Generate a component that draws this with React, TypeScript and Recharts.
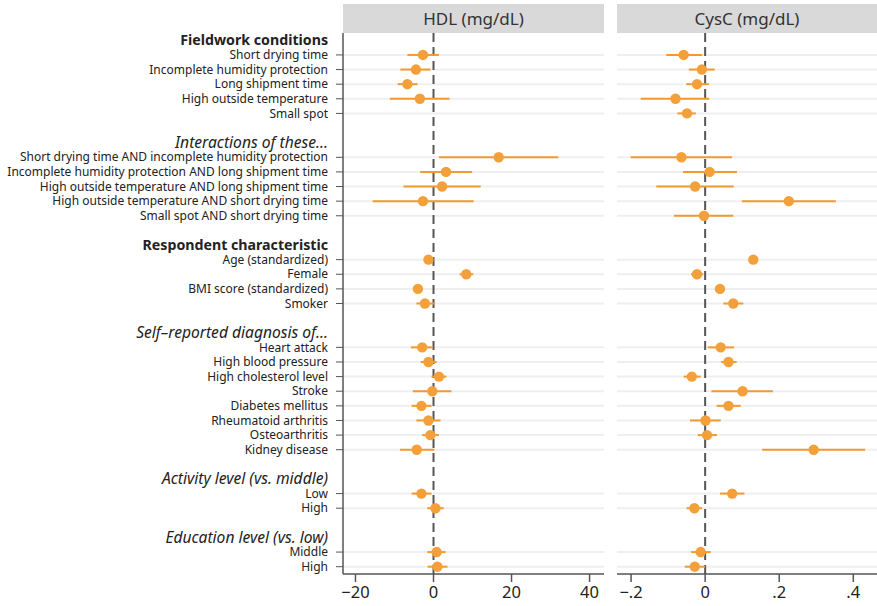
import React from "react";
import { ScatterChart, Scatter, XAxis, YAxis, ErrorBar, ReferenceLine } from "recharts";

// Row labels (top to bottom)
const rowLabels: string[] = [
  "Fieldwork conditions",
  "Short drying time",
  "Incomplete humidity protection",
  "Long shipment time",
  "High outside temperature",
  "Small spot",
  "",
  "Interactions of these...",
  "Short drying time AND incomplete humidity protection",
  "Incomplete humidity protection AND long shipment time",
  "High outside temperature AND long shipment time",
  "High outside temperature AND short drying time",
  "Small spot AND short drying time",
  "",
  "Respondent characteristic",
  "Age (standardized)",
  "Female",
  "BMI score (standardized)",
  "Smoker",
  "",
  "Self\u2013reported diagnosis of...",
  "Heart attack",
  "High blood pressure",
  "High cholesterol level",
  "Stroke",
  "Diabetes mellitus",
  "Rheumatoid arthritis",
  "Osteoarthritis",
  "Kidney disease",
  "",
  "Activity level (vs. middle)",
  "Low",
  "High",
  "",
  "Education level (vs. low)",
  "Middle",
  "High",
];

// b = bold header, h = italic header, i = item, s = spacer
const rowKinds: string[] = [
  "b", "i", "i", "i", "i", "i", "s",
  "h", "i", "i", "i", "i", "i", "s",
  "b", "i", "i", "i", "i", "s",
  "h", "i", "i", "i", "i", "i", "i", "i", "i", "s",
  "h", "i", "i", "s",
  "h", "i", "i",
];

const N = null;

// HDL (mg/dL) estimates and 95% CI
const hdlEst: (number | null)[] = [
  N, -2.7, -4.5, -6.7, -3.5, N, N,
  N, 16.7, 3.2, 2.2, -2.7, N, N,
  N, -1.3, 8.4, -4.0, -2.2, N,
  N, -2.9, -1.3, 1.4, -0.3, -3.1, -1.3, -0.8, -4.3, N,
  N, -3.1, 0.5, N,
  N, 0.8, 1.0,
];
const hdlLo: (number | null)[] = [
  N, -6.7, -8.5, -9.2, -11.2, N, N,
  N, 1.4, -3.4, -7.7, -15.6, N, N,
  N, -1.6, 6.7, -4.3, -4.4, N,
  N, -5.8, -3.3, -0.5, -5.3, -5.6, -4.4, -2.9, -8.6, N,
  N, -5.6, -1.6, N,
  N, -1.6, -1.5,
];
const hdlHi: (number | null)[] = [
  N, 1.4, -0.8, -4.1, 4.1, N, N,
  N, 32.0, 9.9, 12.1, 10.3, N, N,
  N, -1.0, 10.2, -3.7, 0.3, N,
  N, -0.1, 0.8, 3.3, 4.6, -0.5, 1.8, 1.4, 0.2, N,
  N, -0.5, 2.6, N,
  N, 3.1, 3.6,
];

// CysC (mg/dL) estimates and 95% CI
const cysEst: (number | null)[] = [
  N, -0.058, -0.009, -0.022, -0.08, -0.049, N,
  N, -0.064, 0.012, -0.027, 0.226, -0.003, N,
  N, 0.13, -0.022, 0.04, 0.076, N,
  N, 0.042, 0.063, -0.036, 0.101, 0.063, 0.001, 0.005, 0.293, N,
  N, 0.073, -0.029, N,
  N, -0.012, -0.028,
];
const cysLo: (number | null)[] = [
  N, -0.105, -0.044, -0.051, -0.174, -0.075, N,
  N, -0.201, -0.06, -0.132, 0.099, -0.084, N,
  N, 0.126, -0.038, 0.036, 0.049, N,
  N, 0.007, 0.043, -0.058, 0.017, 0.031, -0.041, -0.02, 0.154, N,
  N, 0.04, -0.05, N,
  N, -0.038, -0.055,
];
const cysHi: (number | null)[] = [
  N, -0.008, 0.026, 0.01, 0.011, -0.025, N,
  N, 0.073, 0.086, 0.077, 0.353, 0.076, N,
  N, 0.134, -0.005, 0.044, 0.103, N,
  N, 0.078, 0.085, -0.012, 0.183, 0.096, 0.042, 0.032, 0.432, N,
  N, 0.106, -0.008, N,
  N, 0.015, 0.0,
];

const hdlTicks = [-20, 0, 20, 40];
const cysTicks = [-0.2, 0, 0.2, 0.4];

const FONT = "'Noto Sans', Roboto, sans-serif";
const ORANGE = "#f4a03a";
const ORANGE_LINE = "#f29a30";
const AXIS = "#555555";
const TEXT = "#222222";

const buildSeries = (est: (number | null)[], lo: (number | null)[], hi: (number | null)[]) =>
  est
    .map((v, i) => ({
      row: i,
      est: v,
      err: v == null ? null : [v - (lo[i] as number), (hi[i] as number) - v],
    }))
    .filter((d) => d.est != null);

const hdlData = buildSeries(hdlEst, hdlLo, hdlHi);
const cysData = buildSeries(cysEst, cysLo, cysHi);

const allRows = rowLabels.map((_, i) => i).filter((i) => rowKinds[i] !== "s");
const itemRows = rowLabels.map((_, i) => i).filter((i) => rowKinds[i] === "i");

const fmtHdl = (v: number) => (v < 0 ? "\u2212" + Math.abs(v) : String(v));
const fmtCys = (v: number) => {
  if (v === 0) return "0";
  const s = String(Math.abs(Math.round(v * 10) / 10)).replace(/^0/, "");
  return (v < 0 ? "\u2212" : "") + s;
};

const TICK_SIZE = 7;
const TICK_MARGIN = 8;

const RowTick = (props: any) => {
  const { x, y, payload } = props;
  const i = payload.value as number;
  const kind = rowKinds[i];
  if (!kind || kind === "s") return <g />;
  const isItem = kind === "i";
  const size = isItem ? 12 : kind === "b" ? 14.2 : 15.6;
  return (
    <g>
      {isItem && (
        <line
          x1={x + TICK_MARGIN}
          x2={x + TICK_MARGIN + TICK_SIZE}
          y1={y}
          y2={y}
          stroke={AXIS}
          strokeWidth={1}
        />
      )}
      <text
        x={x}
        y={y}
        dy="0.35em"
        textAnchor="end"
        fontFamily={FONT}
        fontSize={size}
        fontWeight={kind === "b" ? 700 : 400}
        fontStyle={kind === "h" ? "italic" : "normal"}
        fill={TEXT}
      >
        {rowLabels[i]}
      </text>
    </g>
  );
};

const Dot = (props: any) => {
  const { cx, cy } = props;
  if (cx == null || cy == null) return <g />;
  return <circle cx={cx} cy={cy} r={5.2} fill={ORANGE} />;
};

const H = 606;
const TOP = 33;
const XAXIS_H = 32;

const Panel = ({
  width,
  data,
  domain,
  ticks,
  fmt,
  showY,
}: {
  width: number;
  data: any[];
  domain: [number, number];
  ticks: number[];
  fmt: (v: number) => string;
  showY: boolean;
}) => (
  <ScatterChart width={width} height={H} margin={{ top: TOP, right: 0, bottom: 0, left: 0 }}>
    <XAxis
      type="number"
      dataKey="est"
      domain={domain}
      ticks={ticks}
      allowDataOverflow
      tickFormatter={fmt}
      height={XAXIS_H}
      tickSize={8}
      tickMargin={4}
      axisLine={{ stroke: AXIS, strokeWidth: 1.5 }}
      tickLine={{ stroke: AXIS, strokeWidth: 1.5 }}
      tick={{ fontSize: 16.5, fill: TEXT, fontFamily: FONT }}
    />
    <YAxis
      type="number"
      dataKey="row"
      domain={[-0.5, 36.5]}
      reversed
      ticks={allRows}
      interval={0}
      hide={!showY}
      width={showY ? 343 : 0}
      tickSize={TICK_SIZE}
      tickMargin={TICK_MARGIN}
      tickLine={false}
      axisLine={{ stroke: AXIS, strokeWidth: 1.5 }}
      tick={<RowTick />}
    />
    {itemRows.map((r) => (
      <ReferenceLine key={"g" + r} y={r} stroke="#efefef" strokeWidth={2} ifOverflow="visible" />
    ))}
    <ReferenceLine x={0} stroke={AXIS} strokeWidth={2} strokeDasharray="9 5" />
    <Scatter data={data} shape={<Dot />} isAnimationActive={false}>
      <ErrorBar dataKey="err" direction="x" width={0} stroke={ORANGE_LINE} strokeWidth={2} />
    </Scatter>
  </ScatterChart>
);

const headerStyle = (left: number, width: number): React.CSSProperties => ({
  position: "absolute",
  left,
  top: 4,
  width,
  height: 29,
  background: "#d9d9d9",
  color: "#333",
  fontFamily: FONT,
  fontSize: 17,
  lineHeight: "29px",
  textAlign: "center",
});

export default function App() {
  return (
    <div
      style={{
        position: "absolute",
        left: 0,
        top: 0,
        width: 877,
        height: 606,
        background: "#ffffff",
        fontFamily: FONT,
        overflow: "hidden",
      }}
    >
      <div style={headerStyle(343, 261)}>HDL (mg/dL)</div>
      <div style={headerStyle(617, 260)}>CysC (mg/dL)</div>
      <div style={{ position: "absolute", left: 0, top: 0 }}>
        <Panel width={604} data={hdlData} domain={[-23.2, 43.7]} ticks={hdlTicks} fmt={fmtHdl} showY />
      </div>
      <div style={{ position: "absolute", left: 617, top: 0 }}>
        <Panel width={260} data={cysData} domain={[-0.238, 0.464]} ticks={cysTicks} fmt={fmtCys} showY={false} />
      </div>
    </div>
  );
}
